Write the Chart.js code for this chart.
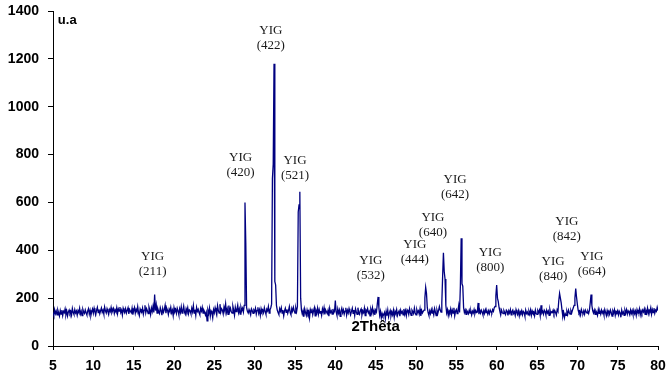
<!DOCTYPE html>
<html>
<head>
<meta charset="utf-8">
<title>YIG XRD</title>
<script src="https://cdn.jsdelivr.net/npm/chart.js@4/dist/chart.umd.min.js"></script>
<style>
  body { margin: 0; background: #fff; }
  #wrap { width: 669px; height: 378px; }
</style>
</head>
<body>
<div id="wrap"><canvas id="xrd" width="669" height="378"></canvas></div>
<script>
// XRD pattern of YIG, intensity (u.a) sampled every 0.1 degree from 5 to 80 (2 theta)
const startAngle = 5;
const stepAngle = 0.1;
const intensity = [
  140,128,152,135,146,130,150,138,125,148, // 5
  133,150,127,145,139,155,131,147,126,142, // 6
  150,136,145,129,157,141,132,152,138,146, // 7
  129,148,140,158,134,145,127,153,142,136, // 8
  151,139,130,147,156,133,149,128,144,155, // 9
  137,158,143,131,150,162,140,153,135,148, // 10
  159,141,150,134,163,147,138,156,145,132, // 11
  152,144,161,139,148,157,136,151,143,160, // 12
  135,155,146,163,140,150,129,158,147,141, // 13
  156,138,149,160,134,152,145,139,158,131, // 14
  148,161,137,153,144,165,140,127,155,146, // 15
  142,158,133,150,170,139,156,147,135,163, // 16
  150,131,159,144,166,140,215,148,172,138, // 17
  155,143,136,160,148,129,157,141,152,170, // 18
  137,158,149,132,154,145,162,139,150,127, // 19
  160,143,152,136,158,147,131,155,140,164, // 20
  138,149,167,142,133,156,145,160,135,151, // 21
  147,135,158,143,169,137,152,128,161,145, // 22
  153,140,131,157,146,162,138,150,142,129, // 23
  141,105,150,136,158,125,147,140,118,152, // 24
  139,160,145,131,168,148,137,175,142,156, // 25
  150,134,163,147,176,140,155,132,169,145, // 26
  158,143,137,166,150,129,162,144,153,171, // 27
  140,155,133,162,148,158,142,170,600,430, // 28
  160,145,138,152,141,130,155,147,136,150, // 29
  144,158,133,149,162,137,151,128,156,143, // 30
  150,139,160,145,133,154,147,165,138,152, // 31
  160,175,700,760,1180,270,255,170,150,140, // 32
  132,156,145,160,138,150,126,147,158,141, // 33
  153,136,149,165,140,131,157,145,162,148, // 34
  137,159,144,165,560,590,645,200,150,134, // 35
  148,122,155,140,128,150,135,145,118,152, // 36
  140,156,131,147,160,126,149,138,158,133, // 37
  152,137,146,128,155,141,160,132,150,143, // 38
  135,150,125,158,140,147,133,155,138,145, // 39
  190,142,128,155,137,150,124,146,158,139, // 40
  151,133,146,160,129,149,138,156,142,131, // 41
  145,158,136,150,127,155,143,132,160,140, // 42
  133,148,155,130,146,139,158,127,150,144, // 43
  156,138,145,126,153,140,160,135,148,130, // 44
  150,142,175,205,160,128,145,118,136,125, // 45
  131,140,115,145,127,150,122,138,148,126, // 46
  142,130,149,120,145,135,152,128,140,147, // 47
  125,150,138,144,130,155,133,148,127,151, // 48
  145,132,156,140,128,150,143,135,158,138, // 49
  130,152,140,147,133,155,126,149,138,145, // 50
  150,200,245,220,160,140,128,147,135,152, // 51
  138,145,130,156,142,127,150,136,149,165, // 52
  150,142,180,290,390,310,280,170,138,152, // 53
  128,147,140,155,131,150,138,160,126,145, // 54
  152,135,148,170,140,250,450,260,250,160, // 55
  140,150,132,148,142,135,150,138,146,130, // 56
  145,138,152,135,148,140,142,180,133,150, // 57
  138,150,142,130,148,136,152,140,145,133, // 58
  147,135,150,142,138,152,145,160,165,210, // 59
  255,200,185,160,145,130,150,140,135,148, // 60
  140,132,150,145,128,147,138,152,130,144, // 61
  150,136,143,128,152,140,133,147,126,145, // 62
  138,148,131,145,140,125,150,136,142,130, // 63
  145,133,150,128,147,138,142,126,150,135, // 64
  132,148,140,150,127,170,138,145,133,150, // 65
  144,130,150,138,146,128,152,136,143,140, // 66
  150,135,148,140,130,152,145,190,220,200, // 67
  180,150,125,140,118,135,128,145,132,150, // 68
  140,133,148,138,150,160,170,200,240,205, // 69
  175,150,138,145,130,152,140,136,148,133, // 70
  150,142,138,145,136,150,180,215,170,148, // 71
  138,150,132,147,140,128,152,136,145,133, // 72
  150,138,146,130,152,140,127,148,136,145, // 73
  133,150,140,125,147,138,152,128,145,140, // 74
  148,130,145,138,120,150,135,142,128,150, // 75
  138,152,133,147,140,130,150,136,148,132, // 76
  150,135,146,128,152,140,138,155,130,147, // 77
  136,150,142,155,132,148,138,158,135,150, // 78
  145,160,133,152,140,158,137,150,145,162, // 79
  148                                      // 80
];

// peak labels (Miller indices) and where they sit, in data units
const peakNames = ["(211)", "(420)", "(422)", "(521)", "(532)", "(444)", "(640)", "(642)", "(800)", "(840)", "(842)", "(664)"];
const labelX = [17.35, 28.25, 32.0, 35.0, 44.4, 49.85, 52.1, 54.85, 59.2, 67.0, 68.7, 71.8];
const labelY = [372, 786, 1320, 773, 359, 422, 535, 694, 389, 351, 522, 372];

const points = intensity.map((v, i) => ({ x: +(startAngle + i * stepAngle).toFixed(1), y: v }));

const tickFont = { family: "'Liberation Sans', Arial, sans-serif", size: 14, weight: "bold" };

const labelsPlugin = {
  id: "peakLabels",
  afterDatasetsDraw(chart) {
    const ctx = chart.ctx;
    const xs = chart.scales.x, ys = chart.scales.y;
    ctx.save();
    ctx.fillStyle = "#1a1a1a";
    ctx.textAlign = "center";
    ctx.textBaseline = "middle";
    ctx.font = "13px 'Liberation Serif', 'Times New Roman', serif";
    peakNames.forEach((name, i) => {
      const px = xs.getPixelForValue(labelX[i]);
      const py = ys.getPixelForValue(labelY[i]);
      ctx.fillText("YIG", px, py);
      ctx.fillText(name, px, py + 15);
    });
    // axis titles
    ctx.fillStyle = "#000";
    ctx.font = "bold 13px 'Liberation Sans', Arial, sans-serif";
    ctx.textAlign = "left";
    ctx.fillText("u.a", xs.getPixelForValue(5.6), ys.getPixelForValue(1362));
    ctx.font = "bold 15px 'Liberation Sans', Arial, sans-serif";
    ctx.textAlign = "center";
    ctx.fillText("2Thêta", xs.getPixelForValue(45.0), ys.getPixelForValue(80));
    ctx.restore();
  }
};

new Chart(document.getElementById("xrd").getContext("2d"), {
  type: "line",
  data: {
    datasets: [{
      data: points,
      borderColor: "#000080",
      borderWidth: 1.3,
      pointRadius: 0,
      tension: 0,
      fill: false
    }]
  },
  options: {
    responsive: false,
    animation: false,
    layout: { padding: { top: 11, right: 11, left: 0, bottom: 0 } },
    plugins: { legend: { display: false }, tooltip: { enabled: false } },
    scales: {
      x: {
        type: "linear",
        min: 5,
        max: 80,
        ticks: { stepSize: 5, color: "#000", font: tickFont, padding: 8, maxRotation: 0 },
        grid: { drawOnChartArea: false, drawTicks: true, tickLength: 4, color: "#000" },
        border: { display: true, color: "#000", width: 1 },
        afterFit(scale) {
          scale.height = 32;
          scale.paddingLeft = 0;
          scale.paddingRight = 0;
        }
      },
      y: {
        min: 0,
        max: 1400,
        ticks: { stepSize: 200, color: "#000", font: tickFont, padding: 9, callback: v => String(v) },
        grid: { drawOnChartArea: false, drawTicks: true, tickLength: 5, color: "#000" },
        border: { display: true, color: "#000", width: 1 },
        afterFit(scale) {
          scale.width = 53;
          scale.paddingTop = 0;
          scale.paddingBottom = 0;
        }
      }
    }
  },
  plugins: [labelsPlugin]
});
</script>
</body>
</html>
